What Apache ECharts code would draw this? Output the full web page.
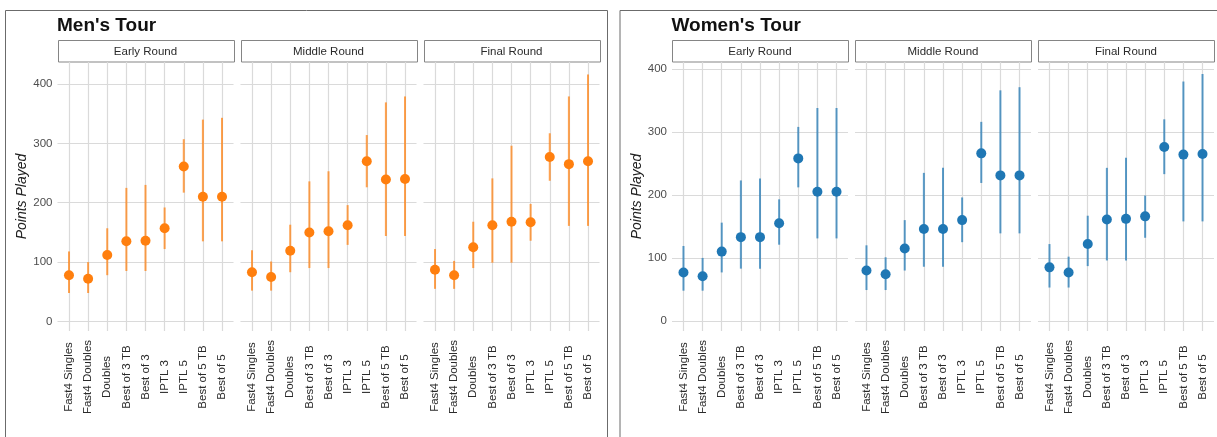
<!DOCTYPE html>
<html>
<head>
<meta charset="utf-8">
<script src="https://cdn.jsdelivr.net/npm/echarts@6/dist/echarts.min.js"></script>
<style>
  html, body { margin: 0; padding: 0; background: #fff; }
  #chart { width: 1217px; height: 437px; }
</style>
</head>
<body>
<div id="chart"></div>
<script>
// Match formats, in axis order
const formats = ['Fast4 Singles', 'Fast4 Doubles', 'Doubles', 'Best of 3 TB', 'Best of 3',
                 'IPTL 3', 'IPTL 5', 'Best of 5 TB', 'Best of 5'];
const rounds = ['Early Round', 'Middle Round', 'Final Round'];

// Points played per match: [typical, low, high] for each format
const menEarly  = [[78, 48, 118], [72, 48, 100], [112, 78, 157], [135, 85, 225], [136, 85, 230],
                   [157, 122, 192], [261, 217, 307], [210, 135, 340], [210, 135, 343]];
const menMiddle = [[83, 52, 120], [75, 52, 101], [119, 83, 163], [150, 90, 236], [152, 90, 253],
                   [162, 129, 196], [270, 226, 314], [239, 144, 369], [240, 144, 379]];
const menFinal  = [[87, 55, 122], [78, 55, 102], [125, 90, 168], [162, 99, 241], [168, 99, 296],
                   [167, 136, 198], [277, 237, 317], [265, 161, 379], [270, 161, 416]];

const womenEarly  = [[77, 48, 119], [71, 48, 100], [110, 77, 156], [133, 83, 223], [133, 83, 226],
                     [155, 121, 193], [258, 212, 308], [205, 131, 338], [205, 131, 338]];
const womenMiddle = [[80, 49, 120], [74, 49, 101], [115, 80, 160], [146, 86, 235], [146, 86, 243],
                     [160, 125, 196], [266, 219, 316], [231, 139, 366], [231, 139, 371]];
const womenFinal  = [[85, 53, 122], [77, 53, 102], [122, 87, 167], [161, 96, 243], [162, 96, 259],
                     [166, 132, 199], [276, 233, 320], [264, 158, 380], [265, 158, 392]];

const yTicks = [0, 100, 200, 300, 400];

const tours = [
  { title: "Men's Tour",   color: '#FF7F0E', facets: [menEarly, menMiddle, menFinal],       yMin: -16, yMax: 437, shift: 0 },
  { title: "Women's Tour", color: '#1F77B4', facets: [womenEarly, womenMiddle, womenFinal], yMin: -16, yMax: 411, shift: 614.5 }
];

// Facet geometry
const FONT = "'Liberation Sans', Arial, Helvetica, sans-serif";
const FACET_LEFTS = [57.5, 240.5, 423.5];
const FACET_W = 176;
const PLOT_TOP = 62;
const PLOT_H = 269;
const STEP = FACET_W / 9.2;          // category spacing with 0.6-step padding on each side
const PAD = 0.6 * STEP;
const GRID_LINE = '#dadada';

const grid = [], xAxis = [], yAxis = [], series = [], graphic = [], title = [];

tours.forEach((tour, t) => {
  // panel frame
  graphic.push({
    type: 'rect', z: 0, silent: true,
    shape: { x: 5.5 + tour.shift, y: 10.5, width: 602, height: 460 },
    style: { fill: 'none', stroke: '#6b6b6b', lineWidth: 1 }
  });
  title.push({
    text: tour.title, left: 57 + tour.shift, top: 16, padding: 0,
    textStyle: { fontFamily: FONT, fontSize: 19, fontWeight: 'bold', color: '#111' }
  });

  tour.facets.forEach((rows, f) => {
    const left = FACET_LEFTS[f] + tour.shift;

    // strip label
    graphic.push({
      type: 'rect', silent: true,
      shape: { x: Math.round(left) + 0.5, y: 40.5, width: FACET_W, height: 21.5 },
      style: { fill: '#fff', stroke: '#858585', lineWidth: 1 }
    });
    graphic.push({
      type: 'text', silent: true,
      x: left + FACET_W / 2, y: 51.5,
      style: { text: rounds[f], fill: '#2b2b2b', font: '11.5px ' + FONT, align: 'center', verticalAlign: 'middle' }
    });

    // background grid: full facet width, carries the horizontal gridlines and y labels
    const bg = grid.length;
    grid.push({ left: left, top: PLOT_TOP, width: FACET_W, height: PLOT_H, outerBoundsMode: 'none', containLabel: false });
    xAxis.push({ type: 'value', gridIndex: bg, min: 0, max: 1, show: false });
    yAxis.push({
      type: 'value', gridIndex: bg, min: tour.yMin, max: tour.yMax, splitNumber: 5,
      axisLine: { show: false }, axisTick: { show: false },
      splitLine: { show: true, showMinLine: false, showMaxLine: false, lineStyle: { color: GRID_LINE, width: 1.2 } },
      axisLabel: {
        show: f === 0, margin: 5, color: '#4d4d4d', fontSize: 11.5, fontFamily: FONT,
        showMinLabel: false, showMaxLabel: false,
        formatter: v => (yTicks.indexOf(v) >= 0 ? String(v) : '')
      },
      name: f === 0 ? 'Points Played' : '',
      nameLocation: 'middle', nameGap: 27, nameRotate: 90,
      nameTextStyle: { fontFamily: FONT, fontSize: 14, fontStyle: 'italic', color: '#222' }
    });

    // foreground grid: category positions, vertical gridlines, marks
    const fg = grid.length;
    grid.push({ left: left + PAD, top: PLOT_TOP, width: 8 * STEP, height: PLOT_H, outerBoundsMode: 'none', containLabel: false });
    xAxis.push({
      type: 'category', gridIndex: fg, data: formats, boundaryGap: false,
      axisLine: { show: false }, axisTick: { show: false },
      splitLine: { show: true, interval: 0, lineStyle: { color: GRID_LINE, width: 1.2 } },
      axisLabel: { interval: 0, rotate: 90, align: 'center', verticalAlign: 'middle', margin: 46,
                   color: '#2b2b2b', fontSize: 11.5, fontFamily: FONT }
    });
    yAxis.push({ type: 'value', gridIndex: fg, min: tour.yMin, max: tour.yMax, show: false, splitLine: { show: false } });

    series.push({
      type: 'custom', xAxisIndex: fg, yAxisIndex: fg, clip: false, z: 2,
      data: rows.map((r, i) => [i, r[1], r[2]]),
      renderItem: (params, api) => {
        const lo = api.coord([api.value(0), api.value(1)]);
        const hi = api.coord([api.value(0), api.value(2)]);
        return {
          type: 'line',
          shape: { x1: lo[0], y1: lo[1], x2: hi[0], y2: hi[1] },
          style: { stroke: tour.color, lineWidth: 2, opacity: 0.72 }
        };
      }
    });
    series.push({
      type: 'scatter', xAxisIndex: fg, yAxisIndex: fg, clip: false, z: 3,
      symbolSize: 10,
      itemStyle: { color: tour.color, opacity: 1 },
      data: rows.map((r, i) => [i, r[0]])
    });
  });
});

const chart = echarts.init(document.getElementById('chart'), null, { renderer: 'canvas' });
chart.setOption({
  animation: false,
  backgroundColor: '#fff',
  title, grid, xAxis, yAxis, series, graphic
});
</script>
</body>
</html>
